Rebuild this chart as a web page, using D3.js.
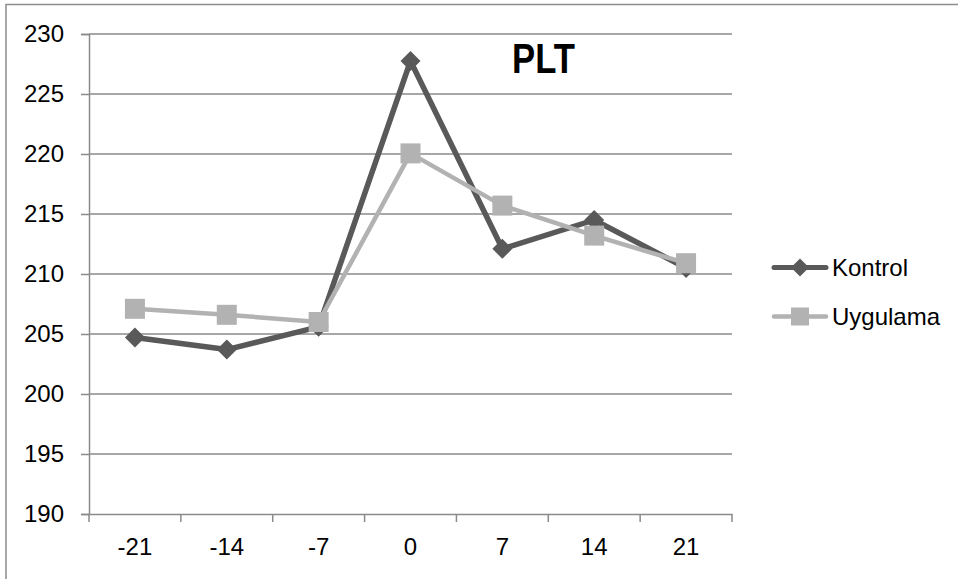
<!DOCTYPE html>
<html>
<head>
<meta charset="utf-8">
<script src="https://cdn.jsdelivr.net/npm/d3@7"></script>
<style>
  html, body { margin: 0; padding: 0; background: #fff; }
  svg { display: block; font-family: "Liberation Sans", Arial, sans-serif; }
</style>
</head>
<body>
<svg id="chart" width="958" height="579"></svg>
<script>
const categories = ["-21", "-14", "-7", "0", "7", "14", "21"];
const kontrol = [204.7, 203.7, 205.6, 227.75, 212.1, 214.5, 210.5];
const uygulama = [207.1, 206.6, 206.0, 220.05, 215.7, 213.2, 210.9];
const yTicks = [190, 195, 200, 205, 210, 215, 220, 225, 230];
const seriesNames = ["Kontrol", "Uygulama"];
const title = "PLT";

const svg = d3.select("#chart");
const plot = { left: 89, right: 732, top: 34, bottom: 514 };

const x = d3.scaleBand().domain(categories).range([plot.left, plot.right]).padding(0);
const y = d3.scaleLinear().domain([190, 230]).range([plot.bottom, plot.top]);

const gridColor = "#8a8a8a";
const darkColor = "#595959";
const lightColor = "#b2b2b2";
const FS = 24;

// outer frame
svg.append("rect")
  .attr("x", 6).attr("y", 4.5)
  .attr("width", 1200).attr("height", 1200)
  .attr("fill", "none").attr("stroke", "#8c8c8c").attr("stroke-width", 1.5);

// gridlines
svg.append("g").selectAll("line").data(yTicks.filter(t => t !== 190)).join("line")
  .attr("x1", plot.left).attr("x2", plot.right)
  .attr("y1", d => y(d)).attr("y2", d => y(d))
  .attr("stroke", gridColor).attr("stroke-width", 1.5);

// y axis
const yAxis = d3.axisLeft(y).tickValues(yTicks).tickSize(8).tickPadding(17).tickFormat(d3.format("d"));
const gy = svg.append("g").attr("transform", `translate(${plot.left},0)`).call(yAxis);
gy.select(".domain").attr("stroke", gridColor).attr("stroke-width", 1.5);
gy.selectAll(".tick line").attr("stroke", gridColor).attr("stroke-width", 1.5);
gy.selectAll(".tick text").attr("font-size", FS).attr("fill", "#000")
  .attr("font-family", "Liberation Sans, Arial, sans-serif");

// x axis
const xAxis = d3.axisBottom(x).tickSize(0).tickPadding(24);
const gx = svg.append("g").attr("transform", `translate(0,${plot.bottom})`).call(xAxis);
gx.select(".domain").attr("stroke", gridColor).attr("stroke-width", 1.5);
gx.selectAll(".tick text").attr("font-size", FS).attr("fill", "#000")
  .attr("font-family", "Liberation Sans, Arial, sans-serif");
// boundary tick marks
const bounds = categories.map(c => x(c)).concat([x(categories[categories.length - 1]) + x.bandwidth()]);
svg.append("g").selectAll("line").data(bounds).join("line")
  .attr("x1", d => d).attr("x2", d => d)
  .attr("y1", plot.bottom).attr("y2", plot.bottom + 8)
  .attr("stroke", gridColor).attr("stroke-width", 1.5);

const cx = c => x(c) + x.bandwidth() / 2;
const line = d3.line().x((d, i) => cx(categories[i])).y(d => y(d));

function diamond(g, px, py, s) {
  g.append("path")
    .attr("d", `M${px},${py - s}L${px + s},${py}L${px},${py + s}L${px - s},${py}Z`)
    .attr("fill", darkColor);
}
function square(g, px, py, s) {
  g.append("rect")
    .attr("x", px - s / 2).attr("y", py - s / 2)
    .attr("width", s).attr("height", s)
    .attr("fill", lightColor);
}

// Kontrol series
const gk = svg.append("g");
gk.append("path").datum(kontrol).attr("d", line)
  .attr("fill", "none").attr("stroke", darkColor).attr("stroke-width", 5.5)
  .attr("stroke-linejoin", "round");
kontrol.forEach((v, i) => diamond(gk, cx(categories[i]), y(v), 10));

// Uygulama series
const gu = svg.append("g");
gu.append("path").datum(uygulama).attr("d", line)
  .attr("fill", "none").attr("stroke", lightColor).attr("stroke-width", 4.5)
  .attr("stroke-linejoin", "round");
uygulama.forEach((v, i) => square(gu, cx(categories[i]), y(v), 20));

// title
svg.append("text")
  .attr("x", 512).attr("y", 73)
  .attr("font-size", 42).attr("font-weight", "bold")
  .attr("textLength", 63).attr("lengthAdjust", "spacingAndGlyphs")
  .attr("fill", "#000")
  .text(title);

// legend
const legendY = [267.5, 316.5];
const legendColors = [darkColor, lightColor];
seriesNames.forEach((name, i) => {
  const g = svg.append("g");
  g.append("line")
    .attr("x1", 774).attr("x2", 826)
    .attr("y1", legendY[i]).attr("y2", legendY[i])
    .attr("stroke", legendColors[i]).attr("stroke-width", i === 0 ? 5 : 4.5)
    .attr("stroke-linecap", "round");
  if (i === 0) diamond(g, 800, legendY[i], 9);
  else square(g, 800, legendY[i], 18);
  g.append("text")
    .attr("x", 832).attr("y", legendY[i] + 8.5)
    .attr("font-size", FS).attr("fill", "#000")
    .text(name);
});
</script>
</body>
</html>
